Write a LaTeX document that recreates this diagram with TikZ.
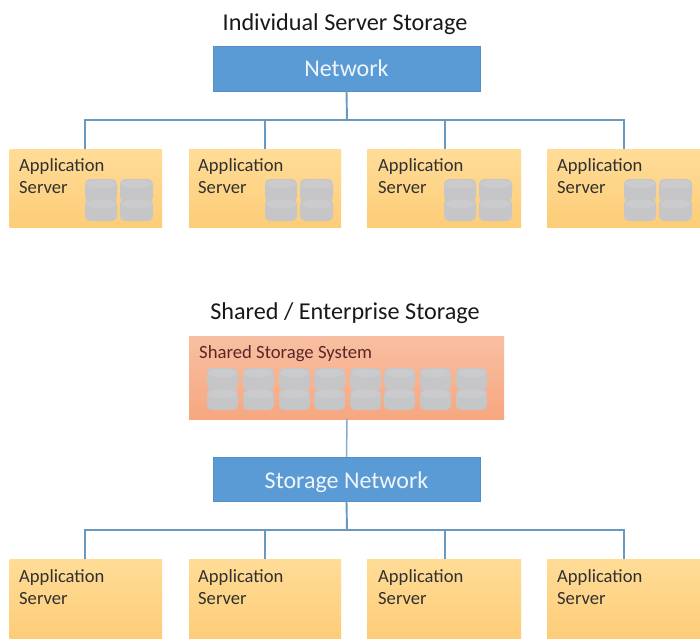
\documentclass[tikz,border=0pt]{standalone}
\usepackage{fontspec}
\setmainfont{Carlito}
\definecolor{netblue}{HTML}{5B9BD5}
\definecolor{linkblue}{HTML}{6A99BF}
\definecolor{srvtop}{HTML}{FFDC97}
\definecolor{srvbot}{HTML}{FDCD78}
\definecolor{shtop}{HTML}{F9BFA2}
\definecolor{shbot}{HTML}{F6A77F}
\definecolor{diskfill}{HTML}{C6C6C8}
\definecolor{disktop}{HTML}{CBCBCD}
\definecolor{textdark}{HTML}{303030}
\tikzset{
  netbox/.style={draw=netblue!92!black,line width=.5pt,fill=netblue,text=white!90!netblue,font=\fontsize{24}{28}\selectfont,inner sep=0pt,anchor=center},
  server/.style={top color=srvtop,bottom color=srvbot,draw=none,inner sep=0pt},
  servertext/.style={text=textdark,font=\fontsize{18.6}{22}\selectfont,align=left,anchor=north west,inner sep=0pt},
  sharedbox/.style={top color=shtop,bottom color=shbot,draw=none,inner sep=0pt},
  heading/.style={text=black!90,font=\fontsize{24.2}{28}\selectfont,inner sep=0pt},
  link/.style={draw=linkblue,line width=1.9pt},
  thinlink/.style={draw=linkblue!80!white,line width=1.5pt},
  disk/.style={fill=diskfill,draw=none},
  disklid/.style={fill=disktop,draw=none}
}
% \dsk{left}{top}{width}{height}
\newcommand{\dsk}[4]{%
  \fill[disk,rounded corners=5pt] (#1,#2) rectangle ++(#3,#4);
  \fill[disklid] (#1+#3/2,#2+5) ellipse [x radius=#3/2-1,y radius=4.5];
}
\newcommand{\quaddisks}[1]{%
  \dsk{#1}{179}{32}{23}\dsk{#1+35}{179}{33}{23}
  \dsk{#1}{199}{32}{22}\dsk{#1+35}{199}{33}{22}
}
\begin{document}
\begin{tikzpicture}[x=1pt,y=-1pt]
\useasboundingbox (0,0) rectangle (700,638);
\fill[white] (0,0) rectangle (700,638);
% headings
\node[heading] (h1) at (345,24) {Individual Server Storage};
\node[heading] (h2) at (345,313) {Shared / Enterprise Storage};
% network
\node[netbox,minimum width=267pt,minimum height=45pt] (net) at (346.5,68.5) {\raisebox{-8pt}[0pt][0pt]{Network}};
\node[netbox,minimum width=267pt,minimum height=44pt] (snet) at (346.5,479) {\raisebox{-9pt}[0pt][0pt]{Storage Network}};
% servers
\foreach \n/\l/\r/\c in {a1/9.5/162/85,a2/189/341/265,a3/367/521/445,a4/547/700/624}{
  \path[server] (\l,149) rectangle (\r,227);
  \coordinate (\n) at (\c,149);
}
\foreach \n/\l/\r/\c in {b1/9.5/162/85,b2/189/341/265,b3/367/521/445,b4/547/700/624}{
  \path[server] (\l,559) rectangle (\r,638);
  \coordinate (\n) at (\c,559);
}
\foreach \n/\x in {ta1/19,ta2/198,ta3/378,ta4/557}{
  \node[servertext] (\n) at (\x,158.5) {Application\\Server};
}
\foreach \n/\x in {tb1/19,tb2/198,tb3/378,tb4/557}{
  \node[servertext] (\n) at (\x,569.5) {Application\\Server};
}
\quaddisks{85}\quaddisks{265}\quaddisks{444}\quaddisks{624}
% shared
\path[sharedbox] (189,336) rectangle (504,419);
\coordinate (shb) at (347,419);
\node[anchor=west,inner sep=0pt,text=textdark!80!red,font=\fontsize{18.7}{22}\selectfont] (shl) at (199,354) {Shared Storage System};
\foreach \x in {207,243,279,314,350,384,420,456}{
  \dsk{\x}{368}{31}{22}
  \dsk{\x}{389}{31}{21}
}
% connectors
\coordinate (bus1) at (347,120);
\coordinate (bus2) at (347,530);
\draw[link] (net.south) -- (bus1) -| (a1);
\draw[link] (bus1) -| (a2);
\draw[link] (bus1) -| (a3);
\draw[link] (bus1) -| (a4);
\draw[thinlink] (shb) -- (snet.north);
\draw[link] (snet.south) -- (bus2) -| (b1);
\draw[link] (bus2) -| (b2);
\draw[link] (bus2) -| (b3);
\draw[link] (bus2) -| (b4);
\end{tikzpicture}
\end{document}
